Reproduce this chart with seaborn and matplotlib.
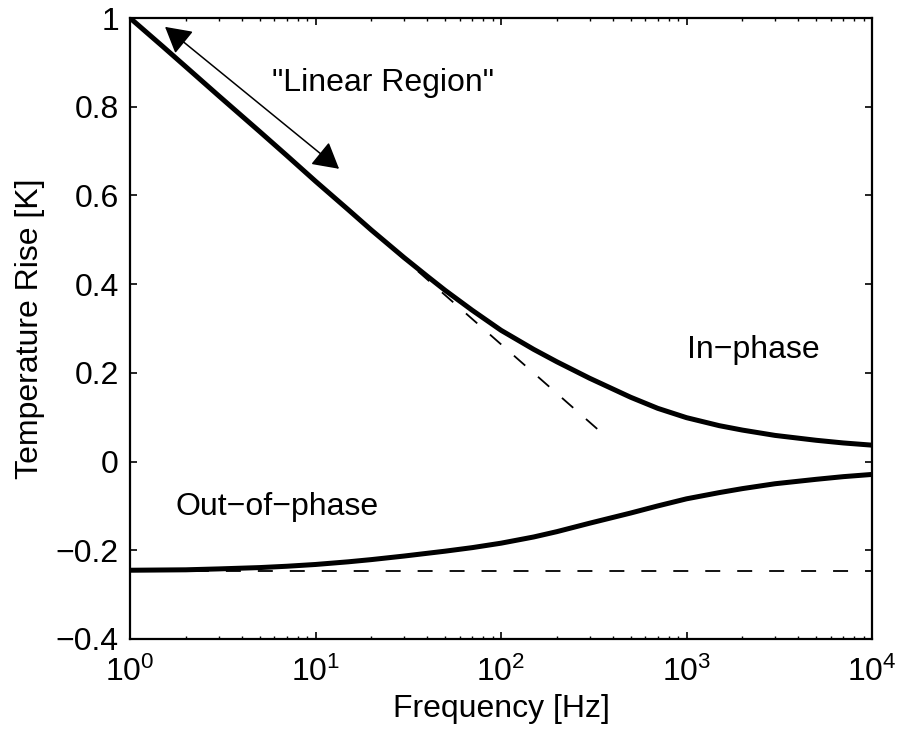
import matplotlib
matplotlib.use("Agg")
import matplotlib.pyplot as plt
import matplotlib.ticker as mticker
import seaborn as sns
import numpy as np

# ---- data ----
freq_in = [1, 1.5, 2, 3, 5, 7, 10, 15, 20, 30, 40, 50, 70, 100, 150, 200, 300,
           500, 700, 1000, 1500, 2000, 3000, 5000, 7000, 10000]
temp_in = [1.000, 0.936, 0.890, 0.825, 0.744, 0.690, 0.632, 0.568, 0.522,
           0.460, 0.418, 0.386, 0.341, 0.296, 0.253, 0.225, 0.188, 0.145,
           0.120, 0.099, 0.081, 0.071, 0.059, 0.048, 0.042, 0.037]

freq_out = [1, 2, 3, 5, 7, 10, 15, 20, 30, 50, 70, 100, 150, 200, 300, 500,
            700, 1000, 1500, 2000, 3000, 5000, 7000, 10000]
temp_out = [-0.245, -0.244, -0.242, -0.239, -0.236, -0.232, -0.226, -0.221,
            -0.213, -0.202, -0.194, -0.184, -0.170, -0.158, -0.139, -0.116,
            -0.100, -0.084, -0.070, -0.061, -0.050, -0.040, -0.034, -0.029]

freq_lin = [1, 342]
temp_lin = [1.0, 0.068]

freq_flat = [1, 10000]
temp_flat = [-0.246, -0.246]

yticks = [-0.4, -0.2, 0, 0.2, 0.4, 0.6, 0.8, 1]
ytick_labels = ["\u22120.4", "\u22120.2", "0", "0.2", "0.4", "0.6", "0.8", "1"]
xticks = [1, 10, 100, 1000, 10000]
xtick_labels = ["$10^{0}$", "$10^{1}$", "$10^{2}$", "$10^{3}$", "$10^{4}$"]

sns.set_style("ticks")
plt.rcParams["font.family"] = ["Liberation Sans", "DejaVu Sans"]
plt.rcParams["mathtext.fontset"] = "custom"
plt.rcParams["mathtext.rm"] = "Liberation Sans"
plt.rcParams["mathtext.it"] = "Liberation Sans"
plt.rcParams["mathtext.default"] = "regular"
plt.rcParams["text.color"] = "black"
plt.rcParams["axes.labelcolor"] = "black"
plt.rcParams["xtick.color"] = "black"
plt.rcParams["ytick.color"] = "black"

FS = 23
W, H = 899, 731
fig = plt.figure(figsize=(W / 100, H / 100), dpi=100)
fig.patch.set_facecolor("white")
L, R, T, B = 130, 872, 18, 639
ax = fig.add_axes([L / W, 1 - B / H, (R - L) / W, (B - T) / H])
ax.set_facecolor("white")

sns.lineplot(x=freq_in, y=temp_in, ax=ax, color="black", lw=3.6, estimator=None, sort=False)
sns.lineplot(x=freq_out, y=temp_out, ax=ax, color="black", lw=3.6, estimator=None, sort=False)
for ln in ax.lines:
    ln.set_solid_joinstyle("round")
    ln.set_solid_capstyle("butt")
sns.lineplot(x=freq_lin, y=temp_lin, ax=ax, color="black", lw=1.3, estimator=None, sort=False)
ax.lines[-1].set_dashes((8.3, 9.4))
sns.lineplot(x=freq_flat, y=temp_flat, ax=ax, color="black", lw=1.3, estimator=None, sort=False)
ax.lines[-1].set_dashes((8.3, 9.4))

ax.set_xscale("log")
ax.set_xlim(1, 10000)
ax.set_ylim(-0.4, 1.0)

ax.set_xticks(xticks)
ax.set_xticklabels(xtick_labels)
ax.xaxis.set_minor_locator(mticker.LogLocator(base=10, subs=np.arange(2, 10)))
ax.xaxis.set_minor_formatter(mticker.NullFormatter())
ax.set_yticks(yticks)
ax.set_yticklabels(ytick_labels)

for s in ax.spines.values():
    s.set_visible(True)
    s.set_linewidth(1.6)
    s.set_color("black")

ax.tick_params(axis="both", which="major", direction="in", length=5, width=1.2,
               top=True, right=True, labelsize=FS, colors="black")
ax.tick_params(axis="x", which="minor", direction="in", length=2.5, width=1.0,
               top=True, bottom=True)
ax.tick_params(axis="x", which="major", pad=13)
ax.tick_params(axis="y", which="major", pad=8)

ax.set_xlabel("Frequency [Hz]", fontsize=FS, labelpad=4)
ax.set_ylabel("Temperature Rise [K]", fontsize=FS, labelpad=8)

ax.text(5.83, 0.854, "\"Linear Region\"", fontsize=FS, ha="left", va="center")
ax.text(1000, 0.252, "In\u2212phase", fontsize=FS, ha="left", va="center")
ax.text(1.75, -0.102, "Out\u2212of\u2212phase", fontsize=FS, ha="left", va="center")

ax.annotate("", xy=(1.545, 0.980), xytext=(13.4, 0.660),
            arrowprops=dict(arrowstyle="<|-|>,head_length=0.8,head_width=0.45",
                            color="black", lw=1.1, mutation_scale=20,
                            shrinkA=0, shrinkB=0))

fig.savefig("out.png", dpi=100, facecolor="white")
